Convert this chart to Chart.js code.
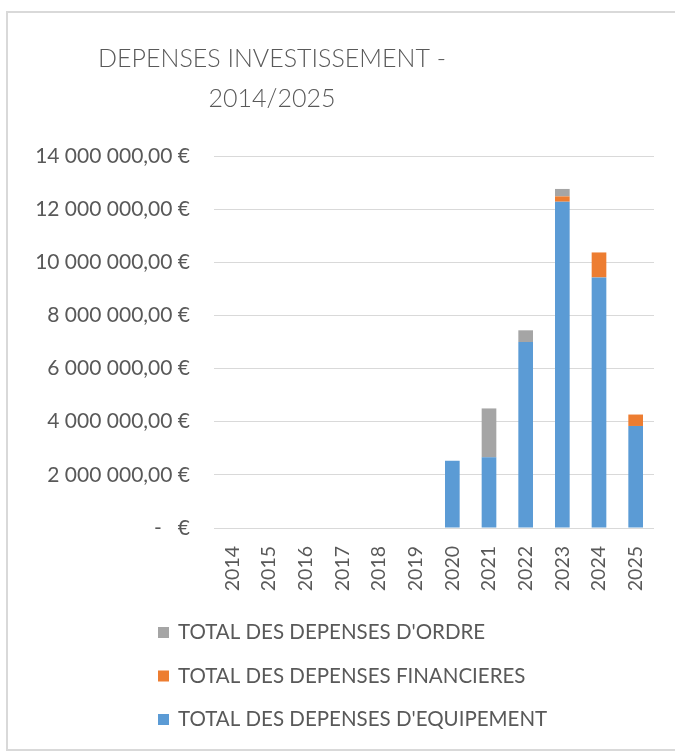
<!DOCTYPE html>
<html>
<head>
<meta charset="utf-8">
<script src="https://cdn.jsdelivr.net/npm/chart.js@4/dist/chart.umd.min.js"></script>
<style>
  html, body { margin: 0; padding: 0; background: #fff; }
  #wrap { position: absolute; left: 0; top: 0; width: 675px; height: 751px; }
  #frame { position: absolute; left: 6px; top: 11px; width: 720px; height: 736px;
           border: 2px solid #d9d9d9; pointer-events: none; }
</style>
</head>
<body>
<div id="wrap"><canvas id="c" width="675" height="751"></canvas></div>
<div id="frame"></div>
<script>
const years = ['2014','2015','2016','2017','2018','2019','2020','2021','2022','2023','2024','2025'];
const equipement  = [0,0,0,0,0,0,2530000,2660000,7000000,12280000,9430000,3840000];
const financieres = [0,0,0,0,0,0,0,0,0,200000,940000,430000];
const ordre       = [0,0,0,0,0,0,0,1840000,440000,280000,0,0];
const seriesNames = ["TOTAL DES DEPENSES D'EQUIPEMENT","TOTAL DES DEPENSES FINANCIERES","TOTAL DES DEPENSES D'ORDRE"];
const titleLines = ['DEPENSES INVESTISSEMENT -', '2014/2025'];
const yTickMax = 14000000, yTickStep = 2000000;

const TEXT = '#595959';
const FONT = 'Lato, "Liberation Sans", sans-serif';

function fmtEuro(v) {
  if (v === 0) return '-   €';
  const s = Math.round(v).toString().replace(/\B(?=(\d{3})+(?!\d))/g, ' ');
  return s + ',00 €';
}

// Title in the reference is centred at about x = 272 (the frame of the original
// chart object is offset), so narrow the title box after layout.
const titleShift = {
  id: 'titleShift',
  afterLayout(chart) {
    const t = chart.titleBlock;
    if (t) { t.right = t.left + 544; t.width = 544; }
  }
};

const legendPlugin = {
  id: 'vlegend',
  afterDraw(chart) {
    const ctx = chart.ctx;
    const ds = chart.data.datasets.slice().reverse();
    const base = chart.chartArea.bottom + 104.5;
    ctx.save();
    ctx.font = '20.5px ' + FONT;
    ctx.textBaseline = 'middle';
    ctx.textAlign = 'left';
    ds.forEach((d, i) => {
      const y = base + i * 43.5;
      ctx.fillStyle = d.backgroundColor;
      ctx.fillRect(158, y - 5.5, 11, 11);
      ctx.fillStyle = TEXT;
      ctx.fillText(d.label, 178, y);
    });
    ctx.restore();
  }
};

new Chart(document.getElementById('c'), {
  type: 'bar',
  data: {
    labels: years,
    datasets: [
      { label: seriesNames[0], data: equipement,  backgroundColor: '#5b9bd5' },
      { label: seriesNames[1], data: financieres, backgroundColor: '#ed7d31' },
      { label: seriesNames[2], data: ordre,       backgroundColor: '#a5a5a5' }
    ]
  },
  options: {
    responsive: false,
    animation: false,
    devicePixelRatio: 1,
    layout: { padding: { left: 0, right: 21, top: 0, bottom: 0 } },
    datasets: { bar: { categoryPercentage: 1, barPercentage: 0.4, borderWidth: 0 } },
    plugins: {
      legend: { display: false },
      tooltip: { enabled: false },
      title: {
        display: true,
        text: titleLines,
        color: TEXT,
        font: { family: FONT, size: 25, weight: '300', lineHeight: 1.58 },
        padding: { top: 39.25, bottom: 37.75 }
      }
    },
    scales: {
      x: {
        stacked: true,
        grid: { display: false },
        border: { display: false },
        ticks: {
          color: TEXT, font: { family: FONT, size: 19.5 },
          minRotation: 90, maxRotation: 90, padding: 10, autoSkip: false
        },
        afterFit(scale) { scale.height = 223; }
      },
      y: {
        stacked: true,
        min: 0, max: yTickMax,
        grid: { color: '#d9d9d9', lineWidth: 1, drawTicks: false },
        border: { display: false },
        ticks: {
          stepSize: yTickStep, color: TEXT, font: { family: FONT, size: 21 },
          padding: 24, callback: (v) => fmtEuro(v)
        },
        afterFit(scale) { scale.width = 214; }
      }
    }
  },
  plugins: [titleShift, legendPlugin]
});
</script>
</body>
</html>
